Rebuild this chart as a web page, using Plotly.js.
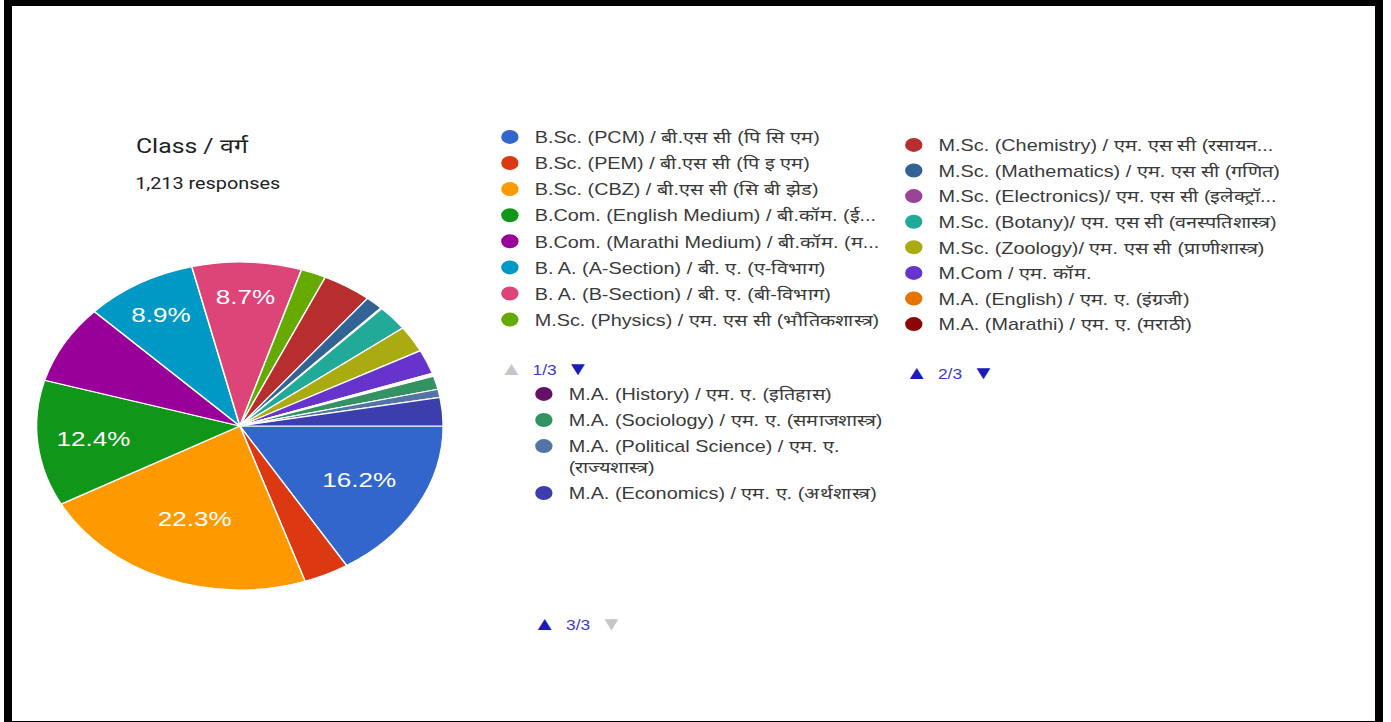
<!DOCTYPE html>
<html>
<head>
<meta charset="utf-8">
<script src="https://cdn.plot.ly/plotly-3.0.1.min.js"></script>
<style>
  html, body { margin:0; padding:0; background:#fff; overflow:hidden; width:1391px; height:722px; }
  #chart { position:absolute; left:0; top:0; width:1122px; height:722px; transform:scaleX(1.2397); transform-origin:0 0; }
  #frame { position:absolute; left:4px; top:0; width:1379px; height:722px; box-sizing:border-box;
           border-style:solid; border-color:#000; border-width:6px 8px 1px 8px; pointer-events:none; }
</style>
</head>
<body>
<div id="chart"></div>
<div id="frame"></div>
<script>
// ---- data ----
const chartTitle = 'Class / वर्ग';
const responsesText = '1,213 responses';

const labels = [
  'B.Sc. (PCM) / बी.एस सी (पि सि एम)',
  'B.Sc. (PEM) / बी.एस सी (पि इ एम)',
  'B.Sc. (CBZ) / बी.एस सी (सि बी झेड)',
  'B.Com. (English Medium) / बी.कॉम. (ई...',
  'B.Com. (Marathi Medium) / बी.कॉम. (म...',
  'B. A. (A-Section) / बी. ए. (ए-विभाग)',
  'B. A. (B-Section) / बी. ए. (बी-विभाग)',
  'M.Sc. (Physics) / एम. एस सी (भौतिकशास्त्र)',
  'M.Sc. (Chemistry) / एम. एस सी (रसायन...',
  'M.Sc. (Mathematics) / एम. एस सी (गणित)',
  'M.Sc. (Electronics)/ एम. एस सी (इलेक्ट्रॉ...',
  'M.Sc. (Botany)/ एम. एस सी (वनस्पतिशास्त्र)',
  'M.Sc. (Zoology)/ एम. एस सी (प्राणीशास्त्र)',
  'M.Com / एम. कॉम.',
  'M.A. (English) / एम. ए. (इंग्रजी)',
  'M.A. (Marathi) / एम. ए. (मराठी)',
  'M.A. (History) / एम. ए. (इतिहास)',
  'M.A. (Sociology) / एम. ए. (समाजशास्त्र)',
  'M.A. (Political Science) / एम. ए.<br>(राज्यशास्त्र)',
  'M.A. (Economics) / एम. ए. (अर्थशास्त्र)'
];

// percent of responses
const shares = [16.2, 3.6, 22.3, 12.4, 7.8, 8.9, 8.7, 2.0, 3.9, 1.4,
                0.1, 2.5, 2.6, 2.4, 0.1, 0.1, 0.1, 1.3, 0.8, 2.8];

const sliceColors = ['#3366cc', '#dc3912', '#ff9900', '#109618', '#990099', '#0099c6', '#dd4477',
                     '#66aa00', '#b82e2e', '#316395', '#994499', '#22aa99', '#aaaa11', '#6633cc',
                     '#e67300', '#8b0707', '#651067', '#329262', '#5574a6', '#3b3eac'];

// which legend column (page) each entry belongs to
const legendPage = [1,1,1,1,1,1,1,1, 2,2,2,2,2,2,2,2, 3,3,3,3];

const pagerTexts = ['1/3', '2/3', '3/3'];

// ---- figure ----
const W = 1122, H = 722, SX = 1.2397;
const FONT = 'Liberation Sans, Arial, sans-serif';

const pie = {
  type: 'pie',
  labels: labels,
  values: shares,
  sort: false,
  direction: 'clockwise',
  rotation: 90,
  marker: { colors: sliceColors, line: { color: '#ffffff', width: 1.2 } },
  texttemplate: shares.map(v => v >= 8.5 ? '%{percent:.1%}' : ''),
  textposition: 'inside',
  insidetextorientation: 'horizontal',
  textfont: { family: FONT, size: 21, color: '#ffffff' },
  showlegend: false,
  hoverinfo: 'label+percent',
  domain: { x: [29.5 / W, 357.5 / W], y: [132 / H, 460 / H] }
};

const legendKeys = { 1: 'legend', 2: 'legend2', 3: 'legend3' };
const legendTraces = labels.map((name, i) => ({
  type: 'scatter',
  mode: 'markers',
  x: [null], y: [null],
  name: name,
  legend: legendKeys[legendPage[i]],
  legendgroup: 'g' + i,
  showlegend: true,
  hoverinfo: 'skip',
  marker: { color: sliceColors[i], size: 14, symbol: 'circle' }
}));

const legendFont = { family: FONT, size: 16, color: '#3a3a3a' };
const legendBase = { xanchor: 'left', yanchor: 'top', bgcolor: 'rgba(0,0,0,0)', borderwidth: 0,
                     font: legendFont, itemclick: false, itemdoubleclick: false, valign: 'top' };

const grey = '#c6c6c6', blue = '#1c1cb4';
function pager(i, upOn, downOn) {
  return '<span style="color:' + (upOn ? blue : grey) + ';font-size:19px">▲</span>  ' +
         '<span style="color:#3b3bc4">' + pagerTexts[i] + '</span>  ' +
         '<span style="color:' + (downOn ? blue : grey) + ';font-size:19px">▼</span>';
}

const layout = {
  width: W, height: H,
  margin: { l: 0, r: 0, t: 0, b: 0 },
  paper_bgcolor: 'rgba(0,0,0,0)',
  plot_bgcolor: 'rgba(0,0,0,0)',
  showlegend: true,
  hovermode: false,
  xaxis: { visible: false },
  yaxis: { visible: false },
  title: {
    text: chartTitle,
    xref: 'container', yref: 'container',
    x: 109.7 / W, xanchor: 'left',
    y: 1 - 146 / H, yanchor: 'middle',
    font: { family: 'Roboto, Arial, sans-serif', size: 20, color: '#202124' }
  },
  legend:  Object.assign({}, legendBase, { x: 391.3 / W, y: 1 - 120 / H, tracegroupgap: 2.3 }),
  legend2: Object.assign({}, legendBase, { x: 717.1 / W, y: 1 - 128 / H, tracegroupgap: 1.8 }),
  legend3: Object.assign({}, legendBase, { x: 418.7 / W, y: 1 - 377 / H, tracegroupgap: 2.3 }),
  annotations: [
    { text: responsesText, xref: 'paper', yref: 'paper', x: 106.5 / W, y: 1 - 183 / H,
      xanchor: 'left', yanchor: 'middle', showarrow: false,
      font: { family: 'Roboto, Arial, sans-serif', size: 16, color: '#202124' } },
    { text: pager(0, false, true), xref: 'paper', yref: 'paper', x: 545 / SX / W, y: 1 - 368 / H,
      xanchor: 'center', yanchor: 'middle', showarrow: false, font: { family: FONT, size: 14, color: blue } },
    { text: pager(1, true, true), xref: 'paper', yref: 'paper', x: 950 / SX / W, y: 1 - 373 / H,
      xanchor: 'center', yanchor: 'middle', showarrow: false, font: { family: FONT, size: 14, color: blue } },
    { text: pager(2, true, false), xref: 'paper', yref: 'paper', x: 578 / SX / W, y: 1 - 623 / H,
      xanchor: 'center', yanchor: 'middle', showarrow: false, font: { family: FONT, size: 14, color: blue } }
  ]
};

Plotly.newPlot('chart', [pie].concat(legendTraces), layout, { displayModeBar: false });
</script>
</body>
</html>
